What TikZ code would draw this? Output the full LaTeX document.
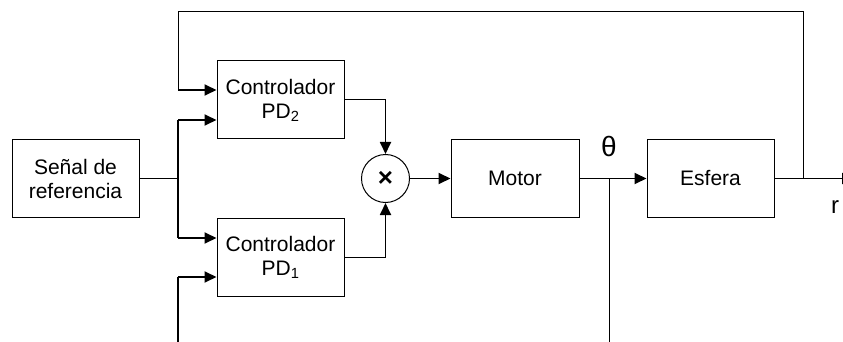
\documentclass[tikz,border=0pt]{standalone}
\usepackage{fontspec}
\setmainfont{Liberation Sans}
\usetikzlibrary{arrows.meta}
\begin{document}
\begin{tikzpicture}[x=1pt,y=-1pt,
  blockbox/.style={draw,line width=1pt,minimum height=78pt,inner sep=0pt,align=center,font=\fontsize{21}{24}\selectfont},
  thinline/.style={line width=1pt},
  thickline/.style={line width=1.8pt},
  arr/.style={thickline,-{Triangle[length=12pt,width=11pt]}}]
\useasboundingbox (0,0) rectangle (843,342);
\node[blockbox,minimum width=127pt] (senal) at (75.5,178.5) {Señal de\\referencia};
\node[blockbox,minimum width=127pt] (pd2) at (280.5,100) {Controlador\\PD\textsubscript{2}};
\node[blockbox,minimum width=127pt] (pd1) at (280.5,257) {Controlador\\PD\textsubscript{1}};
\node[draw,circle,line width=1pt,minimum size=48pt,inner sep=0pt,font=\fontsize{26}{26}\selectfont\bfseries] (mult) at (385.5,178.5) {×};
\node[blockbox,minimum width=128pt] (motor) at (515,178.5) {Motor};
\node[blockbox,minimum width=127pt] (esfera) at (710.5,178.5) {Esfera};
\node[font=\fontsize{28}{28}\selectfont] (theta) at (609,146) {θ};
\node[font=\fontsize{24}{24}\selectfont] (r) at (835,207) {r};
\coordinate (br) at (178,178.5);
\coordinate (brtop) at (178,120);
\coordinate (brbot) at (178,238);
\coordinate (fbleft) at (178,90);
\coordinate (fbtl) at (178,12);
\coordinate (fbtr) at (803,12);
\coordinate (fb) at (803,178.5);
\coordinate (inbot) at (178,345);
\coordinate (inpd1) at (178,277);
\coordinate (tap) at (609,178.5);
\coordinate (tapbot) at (609,345);
\coordinate (outend) at (854,178.5);
% reference branch
\draw[thinline] (senal.east) -- (br);
\draw[thickline] (brtop) -- (brbot);
\draw[arr] (brtop) -- (pd2.west |- brtop);
\draw[arr] (brbot) -- (pd1.west |- brbot);
% feedback
\draw[thinline] (fb) -- (fbtr) -- (fbtl) -- (fbleft);
\draw[arr] (fbleft) -- (pd2.west |- fbleft);
% bottom input
\draw[thickline] (inbot) -- (inpd1);
\draw[arr] (inpd1) -- (pd1.west |- inpd1);
% controllers to multiplier
\draw[thinline] (pd2.east) -| ([yshift=14pt]mult.north);
\draw[arr] ([yshift=14pt]mult.north) -- (mult.north);
\draw[thinline] (pd1.east) -| ([yshift=-14pt]mult.south);
\draw[arr] ([yshift=-14pt]mult.south) -- (mult.south);
% forward path
\draw[arr] (mult.east) -- (motor.west);
\draw[arr] (motor.east) -- (esfera.west);
\draw[thinline] (tap) -- (tapbot);
\draw[arr] (esfera.east) -- (outend);
\end{tikzpicture}
\end{document}
